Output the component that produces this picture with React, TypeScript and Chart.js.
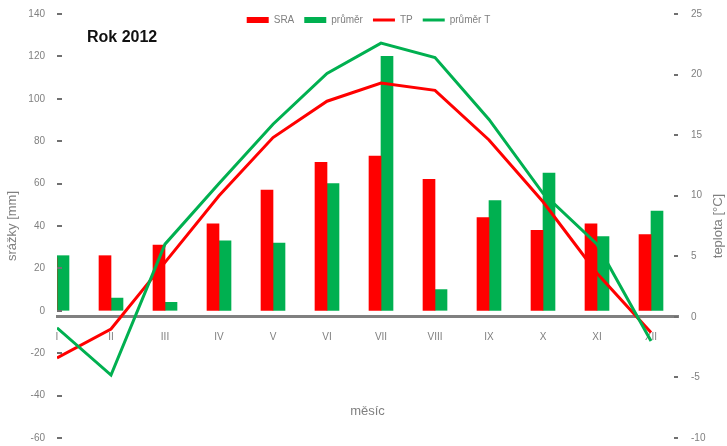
import React, { useEffect, useRef } from 'react';
import { Chart, registerables } from 'chart.js';

Chart.register(...registerables);

// Climate diagram data, year 2012
const months = ['I', 'II', 'III', 'IV', 'V', 'VI', 'VII', 'VIII', 'IX', 'X', 'XI', 'XII'];
const srazky2012 = [25, 26, 31, 41, 57, 70, 73, 62, 44, 38, 41, 36];
const srazkyPrumer = [26, 6, 4, 33, 32, 60, 120, 10, 52, 65, 35, 47];
const teplota2012 = [-3.4, -1.0, 4.5, 10.0, 14.8, 17.8, 19.3, 18.7, 14.6, 9.5, 3.6, -1.3];
const teplotaPrumer = [-0.9, -4.8, 6.0, 11.0, 15.9, 20.1, 22.6, 21.4, 16.3, 10.2, 6.0, -2.0];
const legendLabels = ['SRA', 'průměr', 'TP', 'průměr T'];

const W = 727;
const H = 446;
const FONT = '"Liberation Sans", Arial, sans-serif';
const GREY = '#808080';
const RED = '#FF0000';
const GREEN = '#00B050';

// Keeps the legend from taking layout space, so it sits inside the plot area.
const legendInside = {
  id: 'legendInside',
  afterInit(chart: any) {
    const lg = chart.legend;
    if (!lg || lg._patched) return;
    const fit = lg.fit;
    lg.fit = function () {
      fit.call(this);
      this._fullHeight = this.height;
      this.height = 0;
    };
    lg._patched = true;
  },
  afterLayout(chart: any) {
    const lg = chart.legend;
    if (!lg) return;
    lg.top = 5;
    lg.height = lg._fullHeight || 0;
    lg.bottom = lg.top + lg.height;
    lg.left = 5;
    lg.right = W + 5;
  },
};

// Short tick marks drawn inward from both value axes.
const innerTicks = {
  id: 'innerTicks',
  afterDatasetsDraw(chart: any) {
    const { ctx, chartArea, scales } = chart;
    ctx.save();
    ctx.strokeStyle = '#707070';
    ctx.lineWidth = 2;
    scales.y.ticks.forEach((t: any) => {
      const py = Math.round(scales.y.getPixelForValue(t.value));
      ctx.beginPath();
      ctx.moveTo(chartArea.left, py);
      ctx.lineTo(chartArea.left + 5, py);
      ctx.stroke();
    });
    scales.y2.ticks.forEach((t: any) => {
      const py = Math.round(scales.y2.getPixelForValue(t.value));
      ctx.beginPath();
      ctx.moveTo(chartArea.right - 4, py);
      ctx.lineTo(chartArea.right, py);
      ctx.stroke();
    });
    ctx.restore();
  },
};

// Heading inside the plot and the right-hand axis title (read bottom to top).
const extraText = {
  id: 'extraText',
  afterDraw(chart: any) {
    const { ctx, chartArea } = chart;
    ctx.save();
    ctx.fillStyle = '#111';
    ctx.font = `bold 16px ${FONT}`;
    ctx.textAlign = 'left';
    ctx.textBaseline = 'middle';
    ctx.fillText('Rok 2012', chartArea.left + 30, chartArea.top + 24);

    ctx.translate(W - 9, (chartArea.top + chartArea.bottom) / 2);
    ctx.rotate(-Math.PI / 2);
    ctx.fillStyle = GREY;
    ctx.font = `13px ${FONT}`;
    ctx.textAlign = 'center';
    ctx.fillText('teplota [°C]', 0, 0);
    ctx.restore();
  },
};

export default function App() {
  const ref = useRef<HTMLCanvasElement>(null);

  useEffect(() => {
    const canvas = ref.current;
    if (!canvas) return;
    const tickFont = { family: FONT, size: 10 };
    const titleFont = { family: FONT, size: 13 };

    const chart = new Chart(canvas, {
      type: 'bar',
      data: {
        datasets: [
          {
            type: 'bar',
            label: legendLabels[0],
            data: srazky2012.map((v, i) => ({ x: i, y: v })),
            backgroundColor: RED,
            borderColor: RED,
            borderWidth: 0,
            barThickness: 12,
            yAxisID: 'y',
            order: 2,
            clip: 0,
          },
          {
            type: 'bar',
            label: legendLabels[1],
            data: srazkyPrumer.map((v, i) => ({ x: i, y: v })),
            backgroundColor: GREEN,
            borderColor: GREEN,
            borderWidth: 0,
            barThickness: 12,
            yAxisID: 'y',
            order: 2,
            clip: 0,
          },
          {
            type: 'line',
            label: legendLabels[2],
            data: teplota2012.map((v, i) => ({ x: i, y: v })),
            borderColor: RED,
            backgroundColor: RED,
            borderWidth: 3,
            pointRadius: 0,
            tension: 0,
            yAxisID: 'y2',
            order: 1,
          },
          {
            type: 'line',
            label: legendLabels[3],
            data: teplotaPrumer.map((v, i) => ({ x: i, y: v })),
            borderColor: GREEN,
            backgroundColor: GREEN,
            borderWidth: 3,
            pointRadius: 0,
            tension: 0,
            yAxisID: 'y2',
            order: 0,
          },
        ] as any,
      },
      options: {
        responsive: false,
        animation: false,
        layout: { padding: { top: 14, bottom: 8, left: 0, right: 0 } },
        plugins: {
          tooltip: { enabled: false },
          legend: {
            position: 'top',
            labels: {
              usePointStyle: true,
              pointStyleWidth: 22,
              boxHeight: 6,
              padding: 10,
              color: GREY,
              font: { family: FONT, size: 10 },
              generateLabels: (c: any) => {
                const base = (Chart.defaults.plugins.legend.labels as any).generateLabels(c);
                return base
                  .map((it: any) => {
                    const ds: any = c.data.datasets[it.datasetIndex];
                    const isLine = ds.type === 'line';
                    return {
                      ...it,
                      pointStyle: isLine ? 'line' : 'rect',
                      lineWidth: isLine ? 3 : 0,
                      strokeStyle: ds.borderColor,
                      fillStyle: ds.backgroundColor,
                      fontColor: GREY,
                    };
                  })
                  .sort((a: any, b: any) => a.datasetIndex - b.datasetIndex);
              },
            },
          },
        },
        scales: {
          x: {
            type: 'linear',
            position: { y2: 0 } as any,
            offset: false,
            min: 0,
            max: 11.5,
            afterBuildTicks: (s: any) => {
              s.ticks = months.map((_, i) => ({ value: i }));
            },
            ticks: {
              autoSkip: false,
              maxRotation: 0,
              padding: 14,
              color: GREY,
              font: tickFont,
              callback: (v: any) => months[v] ?? '',
            },
            grid: { display: true, offset: false, drawOnChartArea: false, drawTicks: false },
            border: { display: true, color: GREY, width: 3 },
            title: {
              display: true,
              text: 'měsíc',
              color: GREY,
              font: titleFont,
              padding: { top: 47, bottom: 0 },
            },
          },
          y: {
            position: 'left',
            min: -60,
            max: 140,
            ticks: { stepSize: 20, padding: 0, color: GREY, font: tickFont },
            grid: {
              display: true,
              drawOnChartArea: false,
              drawTicks: true,
              tickLength: 12,
              tickColor: 'rgba(0,0,0,0)',
            },
            border: { display: false },
            title: {
              display: true,
              text: 'srážky [mm]',
              color: GREY,
              font: titleFont,
              padding: { top: 5, bottom: 0 },
            },
            afterFit: (s: any) => {
              s.width = 57;
            },
          },
          y2: {
            position: 'right',
            min: -10,
            max: 25,
            ticks: { stepSize: 5, padding: 0, color: GREY, font: tickFont },
            grid: {
              display: true,
              drawOnChartArea: false,
              drawTicks: true,
              tickLength: 13,
              tickColor: 'rgba(0,0,0,0)',
            },
            border: { display: false },
            afterFit: (s: any) => {
              s.width = 49;
            },
          },
        },
      } as any,
      plugins: [legendInside, innerTicks, extraText],
    });

    return () => chart.destroy();
  }, []);

  return (
    <div style={{ position: 'fixed', left: 0, top: 0, width: W, height: H, background: '#fff' }}>
      <canvas ref={ref} width={W} height={H} style={{ display: 'block' }} />
    </div>
  );
}
